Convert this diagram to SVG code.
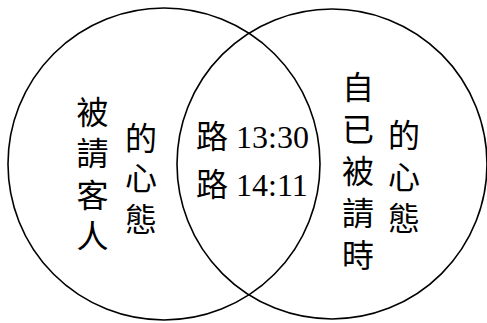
<svg xmlns="http://www.w3.org/2000/svg" width="487" height="323" viewBox="0 0 487 323">
<style>
.c{fill:none;stroke:#000;stroke-width:1.6}
.v{font-family:"Noto Sans CJK TC","Noto Sans CJK SC",sans-serif;font-size:32px;fill:#000;writing-mode:vertical-rl;text-orientation:upright}
.m{font-family:"Liberation Serif","Noto Sans CJK TC",serif;font-size:32px;fill:#000}
.k{font-family:"Noto Sans CJK TC",sans-serif}
</style>
<rect width="487" height="323" fill="#fff"/>
<g id="connectors"></g>
<g id="left-circle">
<circle class="c" cx="164" cy="164" r="156"/>
<text class="v" x="92.5" y="96" letter-spacing="9.3">被請客人</text>
<text class="v" x="141" y="121.5" letter-spacing="8.8">的心態</text>
</g>
<g id="right-circle">
<circle class="c" cx="332" cy="164" r="155"/>
<text class="v" x="358" y="70.5" letter-spacing="10.1">自已被請時</text>
<text class="v" x="404" y="119" letter-spacing="9.5">的心態</text>
</g>
<g id="overlap">
<text class="m"><tspan x="196" y="148"><tspan class="k">路</tspan> 13:30</tspan><tspan x="196" y="196"><tspan class="k">路</tspan> 14:11</tspan></text>
</g>
</svg>
